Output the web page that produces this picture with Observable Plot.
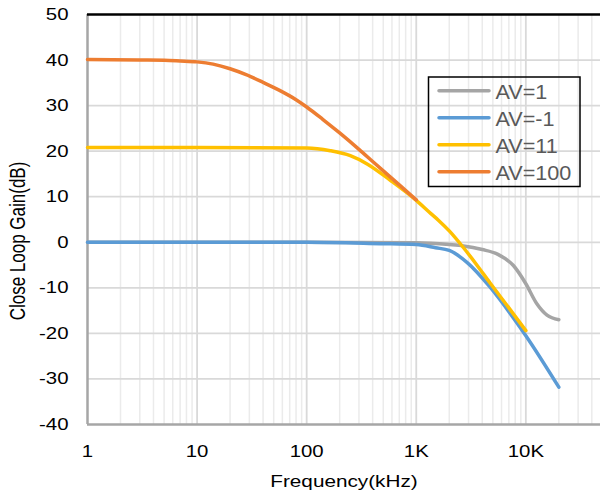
<!DOCTYPE html>
<html><head><meta charset="utf-8">
<script src="https://cdn.jsdelivr.net/npm/d3@7"></script>
<script src="https://cdn.jsdelivr.net/npm/@observablehq/plot@0.6"></script>
<style>
html,body{margin:0;padding:0;background:#fff;}
#chart{position:relative;width:600px;height:497px;}
</style></head><body><div id="chart"></div>
<script>
// ---- data ----
const xTickValues = [1, 10, 100, 1000, 10000];
const xTickLabels = ["1", "10", "100", "1K", "10K"];
const yTickValues = [-40, -30, -20, -10, 0, 10, 20, 30, 40, 50];
const yTickLabels = ["-40", "-30", "-20", "-10", "0", "10", "20", "30", "40", "50"];
const xMinorGrid = [2, 3, 4, 5, 6, 7, 8, 9,
  20, 30, 40, 50, 60, 70, 80, 90,
  200, 300, 400, 500, 600, 700, 800, 900,
  2000, 3000, 4000, 5000, 6000, 7000, 8000, 9000,
  20000, 30000, 40000];

const seriesNames = ["AV=1", "AV=-1", "AV=11", "AV=100"];
const seriesColors = ["#A5A5A5", "#5B9BD5", "#FFC000", "#ED7D31"];

const freqAV1 = [1, 10, 100, 1000, 2000, 2700, 4000, 5500, 7700, 10000, 12600, 15600, 20000];
const gainAV1 = [0, 0, 0, -0.1, -0.5, -0.8, -1.6, -2.6, -5.1, -9.1, -13.5, -16.0, -17.0];

const freqAVm1 = [1, 10, 100, 470, 1000, 1500, 2000, 2900, 4700, 7700, 10000, 20000];
const gainAVm1 = [0, 0, 0, -0.3, -0.5, -1.2, -1.8, -4.4, -9.8, -16.6, -20.5, -31.8];

const freqAV11 = [1, 10, 100, 164, 250, 356, 580, 1000, 1360, 1600, 2000, 2700, 3500, 4700, 7000, 10000];
const gainAV11 = [20.8, 20.8, 20.7, 20.1, 19.0, 17.2, 13.6, 9.2, 6.3, 4.8, 2.5, -1.2, -4.7, -8.9, -14.4, -19.4];

const freqAV100 = [1, 3, 5, 7, 10, 14, 20, 28, 40, 56, 80, 100, 140, 200, 300, 410, 700, 1000];
const gainAV100 = [40.1, 40.0, 39.95, 39.8, 39.6, 39.1, 38.1, 36.8, 35.1, 33.4, 31.3, 29.7, 27.0, 24.0, 20.4, 17.5, 12.6, 9.3];

const freqs = [freqAV1, freqAVm1, freqAV11, freqAV100];
const gains = [gainAV1, gainAVm1, gainAV11, gainAV100];
const rows = seriesNames.flatMap((name, i) =>
  freqs[i].map((f, j) => ({series: name, freq: f, gain: gains[i][j]})));

// ---- chart ----
const svg = Plot.plot({
  width: 600, height: 497,
  marginLeft: 87, marginRight: 0, marginTop: 14, marginBottom: 73,
  style: {fontFamily: "'Liberation Sans', Arial, sans-serif", fontSize: "17px", color: "#000", background: "#fff", overflow: "visible"},
  x: {type: "log", domain: [1, 48000], ticks: xTickValues,
      tickFormat: d => xTickLabels[xTickValues.indexOf(d)], tickSize: 0, tickPadding: 20, label: null},
  y: {domain: [-40, 50], ticks: yTickValues,
      tickFormat: d => yTickLabels[yTickValues.indexOf(d)], tickSize: 0, tickPadding: 19, label: null},
  color: {domain: seriesNames, range: seriesColors},
  marks: [
    Plot.ruleX(xMinorGrid, {stroke: "#ebebeb", strokeWidth: 1.5}),
    Plot.ruleX(xTickValues.slice(1), {stroke: "#d9d9d9", strokeWidth: 1.8}),
    Plot.ruleY(yTickValues.slice(1, -1), {stroke: "#d9d9d9", strokeWidth: 1.8}),
    Plot.ruleX([xTickValues[0]], {stroke: "#a6a6a6", strokeWidth: 2.5}),
    Plot.ruleY([yTickValues[0]], {stroke: "#a6a6a6", strokeWidth: 2.5}),
    Plot.ruleY([yTickValues[yTickValues.length - 1]], {stroke: "#000", strokeWidth: 2.5}),
    Plot.line(rows, {x: "freq", y: "gain", z: "series", stroke: "series", strokeWidth: 3.5,
      curve: "monotone-x", strokeLinecap: "round", strokeLinejoin: "round"})
  ]
});
document.getElementById("chart").appendChild(svg);

function stretch(el, s) {
  const t = el.getAttribute("transform") || "";
  const x = parseFloat(el.getAttribute("x")) || 0;
  el.setAttribute("transform", `${t} translate(${x},0) scale(${s},1) translate(${-x},0)`);
}
svg.querySelectorAll("text").forEach(el => { el.style.fill = "#000"; stretch(el, 1.2); });

const root = d3.select(svg);
// axis titles
root.append("text")
  .attr("transform", "translate(344,487) scale(1.22,1)")
  .attr("text-anchor", "middle").attr("fill", "#000").style("font-size", "17px")
  .text("Frequency(kHz)");
root.append("text")
  .attr("transform", "translate(25,241) scale(1.25,1) rotate(-90)")
  .attr("text-anchor", "middle").attr("fill", "#000").style("font-size", "17px")
  .text("Close Loop Gain(dB)");

// legend
const lg = root.append("g").attr("text-anchor", "start");
lg.append("rect").attr("x", 428.5).attr("y", 77).attr("width", 151.5).attr("height", 109.5)
  .attr("fill", "none").attr("stroke", "#000").attr("stroke-width", 1.5);
seriesNames.forEach((n, i) => {
  const y = 90.7 + i * 27;
  lg.append("line").attr("x1", 439).attr("x2", 489).attr("y1", y).attr("y2", y)
    .attr("stroke", seriesColors[i]).attr("stroke-width", 3.5).attr("stroke-linecap", "round");
  const t = lg.append("text").attr("x", 495.5).attr("y", y + 8.5).attr("text-anchor", "start")
    .attr("fill", "#595959").style("font-size", "20px").text(n);
  stretch(t.node(), 1.08);
});
</script></body></html>
